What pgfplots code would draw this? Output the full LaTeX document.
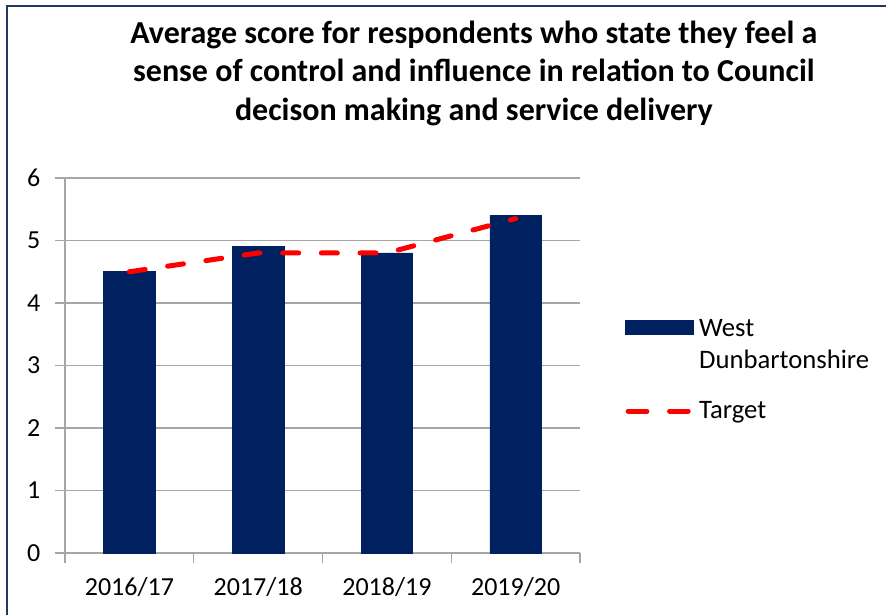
\documentclass[border=0pt]{standalone}
\usepackage{fontspec}
\setmainfont{Carlito}
\usepackage{pgfplots}
\pgfplotsset{compat=1.18}
\usetikzlibrary{calc}
\definecolor{navy}{HTML}{002060}
\definecolor{gridc}{HTML}{A6A6A6}
\definecolor{framec}{HTML}{1F3864}
\begin{document}
\begin{tikzpicture}
\begin{axis}[
  scale only axis, width=386.25pt, height=281.25pt,
  xmin=-0.5, xmax=3.5, ymin=0, ymax=6,
  axis x line*=bottom, axis y line*=left,
  axis line style={draw=gridc, line width=1pt},
  ytick={0,1,2,3,4,5,6},
  ymajorgrids, grid style={draw=gridc, line width=1pt},
  xtick={-0.5,0.5,1.5,2.5,3.5}, xticklabels={},
  extra x ticks={0,1,2,3},
  extra x tick labels={2016/17,2017/18,2018/19,2019/20},
  extra x tick style={major tick length=0pt, grid=none, xticklabel style={yshift=-15pt}},
  tick align=outside, major tick length=7.5pt,
  tick style={draw=gridc, line width=1pt},
  ticklabel style={font=\fontsize{19.5}{23}\selectfont},
  yticklabel style={xshift=-7.5pt},
  /pgf/number format/assume math mode=true,
  title={Average score for respondents who state they feel a\\sense of control and influence in relation to Council\\decison making and service delivery},
  title style={font=\bfseries\fontsize{24}{29}\selectfont, align=center, at={(0.794,1.411)}, anchor=north},
  legend style={at={(1.0874,0.63)}, anchor=north west, draw=none, fill=none,
    font=\fontsize{20}{24}\selectfont, cells={align=left, anchor=west}, row sep=19pt, column sep=2pt, inner sep=0pt},
  legend cell align=left,
]
\coordinate (O) at (rel axis cs:0,0);
\addplot[ybar, bar width=0.4, bar shift=0pt, fill=navy, draw=navy,
  legend image code/.code={\path[draw=none, fill=none] (0pt,-18.75pt) -- (0pt,18.75pt); \fill[navy] (0pt,8.25pt) rectangle (51pt,18.75pt);}]
  coordinates {(0,4.5) (1,4.9) (2,4.8) (3,5.4)};
\addlegendentry{West\\Dunbartonshire}
\addplot[red, line width=3.75pt, dash pattern=on 12pt off 17pt, line cap=round, sharp plot,
  legend image code/.code={\draw[red, line width=3.75pt, dash pattern=on 14pt off 17pt, line cap=round] (2pt,0pt) -- (47pt,0pt);}]
  coordinates {(0,4.5) (1,4.8) (2,4.8) (3,5.35)};
\addlegendentry{Target}
\end{axis}
\path[use as bounding box] ($(O)+(-48.75pt,-46.5pt)$) rectangle +(664.5pt,461.25pt);
\draw[framec, line width=1.5pt] ($(O)+(-43.5pt,-46.5pt)$) -- ($(O)+(-43.5pt,410.25pt)$) -- ($(O)+(615.75pt,410.25pt)$);
\end{tikzpicture}
\end{document}
